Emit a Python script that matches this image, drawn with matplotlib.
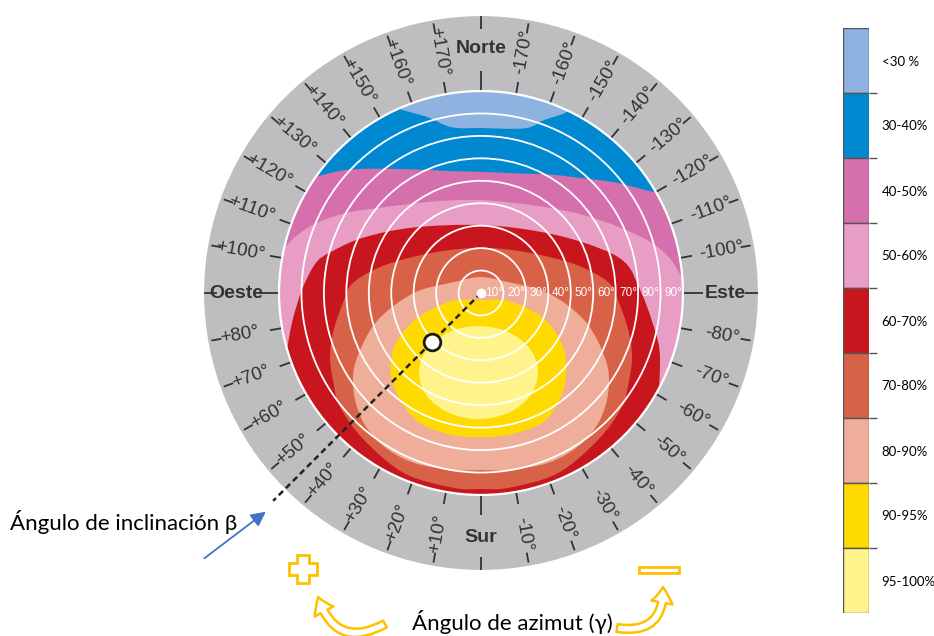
import numpy as np
import matplotlib.pyplot as plt
from matplotlib.patches import Circle, Polygon, Rectangle, FancyArrowPatch, PathPatch
from matplotlib.collections import LineCollection
from matplotlib.path import Path

plt.rcParams['font.family'] = ['Liberation Sans', 'DejaVu Sans']

# yield classes (legend, top to bottom)
classes = ["<30 %", "30-40%", "40-50%", "50-60%", "60-70%", "70-80%", "80-90%", "90-95%", "95-100%"]
colors = ["#8fb3e0", "#0089d0", "#d670ac", "#e89ec4", "#c8161e", "#d86248", "#eeae99", "#ffda00", "#fff48c"]

# class boundaries: azimuth (deg, + = west, 0 = south) and tilt (deg)
# north-side limits; values above 90 lie outside the disc
az_30 = [155, 156, 163, 170, 180, -165, -160, -155, -153]
tilt_30 = [95, 90, 82, 75, 73.5, 76, 82, 88.5, 95]
az_40 = [121, 124, 131, 138, 151, 166, 180, -162, -150, -136, -129, -120, -118]
tilt_40 = [96, 91.5, 83, 74.5, 63, 56, 54, 56, 61, 70.5, 78, 89.7, 95]
az_50 = [96, 99, 104, 112, 121, 130, 151, 180, -145, -124, -109, -101, -94, -91]
tilt_50 = [94, 90.6, 89, 81, 69.5, 59, 46.5, 41.4, 47, 60, 76, 85, 90.2, 94]
az_60 = [71, 81, 91, 100, 105, 115, 134, 180, -135, -113, -102, -91, -81, -72, -61]
tilt_60 = [92.3, 85.3, 79.8, 75, 69.7, 58.2, 42, 30.3, 38.4, 54, 65.6, 71, 77, 83.7, 90.7]
# closed limits
az_70 = [180, -133, -107, -95, -87, -76, -67, -58, -51, -38.5, -23, -8, 0,
         8, 23, 38.5, 51, 58, 67, 76, 87, 95, 107, 133]
tilt_70 = [20.1, 26.8, 43.7, 56.8, 61.1, 67.6, 73.1, 77.3, 80.8, 83.7, 87.3, 87.7, 87.3,
           87.7, 87.3, 83.7, 80.8, 77.3, 73.1, 67.6, 61.1, 56.8, 43.7, 26.8]
az_80 = [180, -112, -90, -75, -62, -53, -43, -33, -22, -9, 0,
         9, 22, 33, 43, 53, 62, 75, 90, 112]
tilt_80 = [7.1, 13, 29.9, 47.9, 62.8, 71.2, 77.6, 80.8, 81.4, 79.9, 78.9,
           79.9, 81.4, 80.8, 77.6, 71.2, 62.8, 47.9, 29.9, 13]
az_90 = [0, -73.5, -68.5, -58, -47, -36, -25, -11, 0, 11.5, 25, 37, 49, 59.5, 69, 74.5]
tilt_90 = [3.1, 12.6, 29.2, 42.4, 52, 59.3, 64, 64.4, 64.2, 64.6, 64, 59.8, 53.4, 43.9, 30, 13.4]
az_95 = [5, -34.7, -41.2, -35.8, -25.4, -12.7, 1.4, 14.9, 27.7, 38.1, 44, 39.4]
tilt_95 = [14.8, 21.1, 33.2, 43.4, 50.8, 54.8, 56.2, 55.3, 51.8, 44.8, 34.7, 22.5]

tilt_circles = [10, 20, 30, 40, 50, 60, 70, 80, 90]
az_ticks = list(range(-170, 190, 10))
cardinal = {0: "Sur", 90: "Oeste", -90: "Este", 180: "Norte"}

example_az, example_tilt = 45, 31


def to_xy(az, tilt):
    a = np.radians(np.asarray(az, float))
    t = np.asarray(tilt, float)
    return -t * np.sin(a), -t * np.cos(a)


def smooth(x, y, closed):
    # cubic path through the points (Catmull-Rom control points)
    p = np.column_stack([x, y])
    n = len(p)
    verts, codes = [p[0]], [Path.MOVETO]
    for i in range(n if closed else n - 1):
        p0 = p[(i - 1) % n] if (closed or i > 0) else p[0]
        p1, p2 = p[i % n], p[(i + 1) % n]
        p3 = p[(i + 2) % n] if (closed or i + 2 < n) else p[n - 1]
        verts += [p1 + (p2 - p0) / 6, p2 - (p3 - p1) / 6, p2]
        codes += [Path.CURVE4] * 3
    return verts, codes


fig = plt.figure(figsize=(9.34, 6.36), dpi=100)
ax = fig.add_axes([0, 0, 1, 1])
ax.set_xlim(-214.35, 201.87)
ax.set_ylim(-152.85, 130.57)
ax.set_axis_off()

# grey azimuth ring and the disc
ax.add_patch(Circle((0, 0), 123.4, color="#bebec1", lw=0, zorder=1))
disc = Circle((0, 0), 90, facecolor=colors[0], lw=0, zorder=1.5)
ax.add_patch(disc)


def fill_region(az, tilt, color, open_south=False):
    x, y = to_xy(az, tilt)
    verts, codes = smooth(x, y, closed=not open_south)
    if open_south:
        arc = np.linspace(az[-1], az[0], 80)
        ax_, ay_ = to_xy(arc, np.full(len(arc), 115.0))
        verts += list(np.column_stack([ax_, ay_]))
        codes += [Path.LINETO] * len(arc)
    verts.append(verts[0])
    codes.append(Path.CLOSEPOLY)
    p = PathPatch(Path(verts, codes), fc=color, lw=0, zorder=2)
    ax.add_patch(p)
    p.set_clip_path(disc)


fill_region(az_30, tilt_30, colors[1], True)
fill_region(az_40, tilt_40, colors[2], True)
fill_region(az_50, tilt_50, colors[3], True)
fill_region(az_60, tilt_60, colors[4], True)
fill_region(az_70, tilt_70, colors[5])
fill_region(az_80, tilt_80, colors[6])
fill_region(az_90, tilt_90, colors[7])
fill_region(az_95, tilt_95, colors[8])

# tilt circles
for t in tilt_circles:
    ax.add_patch(Circle((0, 0), t, fill=False, ec="white", lw=1.3 if t < 90 else 1.6, zorder=3))
    ax.text(t - 0.3, 0, f"{t}°", ha="right", va="center", color="white",
            fontsize=8.5, zorder=4)

# azimuth ticks and labels
segs = []
for g in az_ticks:
    big = g in cardinal
    for r0, r1 in [(90.5, 99 if big else 95.5), (117.5, 123.4 if big else 122)]:
        x, y = to_xy([g, g], [r0, r1])
        segs.append(list(zip(x, y)))
    x, y = to_xy(g, 109)
    if big:
        ax.text(x, y, cardinal[g], ha="center", va="center", fontsize=14,
                fontweight="bold", color="#333333", zorder=4)
    else:
        rot = np.degrees(np.arctan2(y, x))
        if rot > 90:
            rot -= 180
        elif rot < -90:
            rot += 180
        ax.text(x, y, f"{g:+d}°", ha="center", va="center", fontsize=13.5,
                rotation=rot, rotation_mode="anchor", color="#333333", zorder=4)
ax.add_collection(LineCollection(segs, colors="#333333", lw=1.3, zorder=4))

# example orientation
x, y = to_xy([example_az, example_az], [0, 131])
ax.plot(x, y, color="#222222", lw=1.8, ls=(0, (2.4, 1.6)), zorder=5)
ax.plot(0, 0, "o", ms=6, color="white", zorder=6)
ax.plot(*to_xy(example_az, example_tilt), "o", ms=12, mfc="white", mec="#1a1a1a", mew=2, zorder=6)

# annotations
note_font = ["Lato", "DejaVu Sans"]
ax.text(-209.9, -105.6, "Ángulo de inclinación β", fontsize=16, family=note_font,
        ha="left", va="baseline", color="black")
ax.annotate("", xy=(-94.9, -96.7), xytext=(-124.3, -119.0),
            arrowprops=dict(arrowstyle="-|>", color="#4472c4", lw=1.3, mutation_scale=22))
ax.text(14.0, -150.3, "Ángulo de azimut (γ)", fontsize=16, family=note_font,
        ha="center", va="baseline", color="black")

cx, cy, L, W = -79.3, -123.0, 6.2, 2.5
plus = np.array([(-W, L), (W, L), (W, W), (L, W), (L, -W), (W, -W), (W, -L), (-W, -L),
                 (-W, -W), (-L, -W), (-L, W), (-W, W)]) + [cx, cy]
ax.add_patch(Polygon(plus, closed=True, fc="white", ec="#ffc000", lw=2, zorder=5))
ax.add_patch(Rectangle((70.4, -124.8), 17.8, 2.7, fc="white", ec="#ffc000", lw=2, zorder=5))

for a, b, rad in [((-42.8, -147.5), (-72.6, -135.5), -0.6), ((60.6, -149.3), (81.1, -131.0), 0.6)]:
    ax.add_patch(FancyArrowPatch(a, b, connectionstyle=f"arc3,rad={rad}",
                                 arrowstyle="simple,head_length=0.8,head_width=1.1,tail_width=0.4",
                                 mutation_scale=14, fc="white", ec="#ffc000", lw=1.8,
                                 shrinkA=0, shrinkB=0, zorder=5))

# legend column
cax = fig.add_axes([843 / 934, 23 / 636, 26 / 934, 585 / 636])
cax.barh(np.arange(len(classes)), 1, height=1, color=colors, edgecolor="#555555", lw=1)
cax.set_ylim(len(classes) - 0.5, -0.5)
cax.set_xlim(0, 1)
cax.set_xticks([])
cax.set_yticks(np.arange(0.5, len(classes) - 1, 1))
cax.set_yticklabels([])
cax.set_yticks(np.arange(len(classes)), minor=True)
cax.set_yticklabels(classes, minor=True, fontsize=9.5, family=note_font)
cax.tick_params(axis="y", which="major", left=False, right=True, length=6, width=1,
                color="#555555", labelleft=False)
cax.tick_params(axis="y", which="minor", left=False, right=True, length=0, pad=9,
                labelleft=False, labelright=True)
for s in cax.spines.values():
    s.set_visible(False)

fig.savefig("out.png", dpi=100)
